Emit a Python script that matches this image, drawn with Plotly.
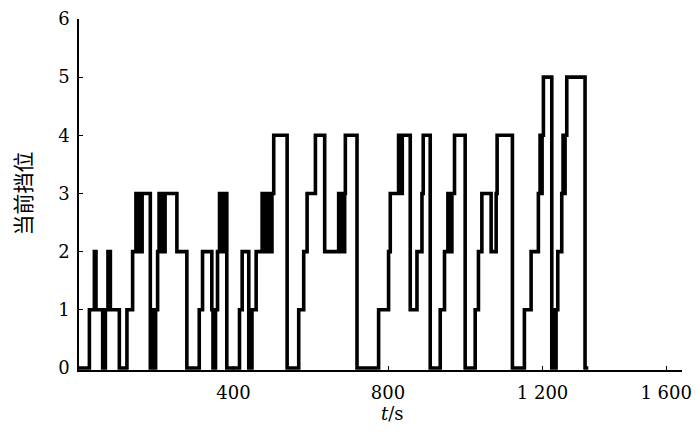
import plotly.graph_objects as go

# change times (s) and gear levels (step function, held until next time)
t_change = [0, 26.9, 39.8, 44.0, 61.3, 68.3, 75.0, 81.2, 104.4, 124.1,
            138.8, 147.4, 151.8, 155.6, 159.5, 163.4, 184.6, 190.5, 194.4, 198.3,
            203.5, 207.3, 211.2, 215.1, 219.0, 222.9, 253.4, 279.2, 311.3, 319.8,
            343.8, 346.9, 353.4, 358.6, 363.8, 367.6, 371.5, 375.4, 378.0, 382.6,
            415.5, 422.4, 439.5, 447.8, 458.6, 474.1, 478.8, 482.7, 487.8, 491.7,
            495.6, 499.5, 504.1, 538.8, 568.8, 581.7, 590.5, 612.0, 636.0, 672.2,
            676.6, 680.5, 684.3, 687.7, 689.5, 719.7, 775.6, 801.4, 805.8, 827.3,
            833.0, 836.9, 857.5, 874.9, 887.8, 891.1, 909.2, 935.1, 946.2, 955.0,
            961.0, 965.3, 972.1, 999.7, 1025.6, 1034.1, 1042.9, 1066.9, 1079.9, 1082.4,
            1122.0, 1153.0, 1170.4, 1189.2, 1193.6, 1196.2, 1198.8, 1202.2, 1223.9, 1228.5,
            1231.1, 1235.0, 1239.4, 1249.7, 1253.1, 1255.7, 1258.3, 1262.7, 1310.0, 1318.5]
gear = [0, 1, 2, 1, 0, 1, 2, 1, 0, 1,
        2, 3, 2, 3, 2, 3, 0, 1, 0, 1,
        2, 3, 2, 3, 2, 3, 2, 0, 1, 2,
        1, 0, 1, 2, 3, 2, 3, 2, 3, 0,
        1, 2, 0, 1, 2, 3, 2, 3, 2, 3,
        2, 3, 4, 0, 1, 2, 3, 4, 2, 3,
        2, 3, 2, 3, 4, 0, 1, 2, 3, 4,
        3, 4, 1, 2, 3, 4, 0, 1, 2, 3,
        2, 3, 4, 0, 1, 2, 3, 2, 3, 4,
        0, 1, 2, 3, 4, 3, 4, 5, 0, 1,
        0, 1, 2, 3, 4, 3, 4, 5, 0, 0]

x_ticks = [400, 800, 1200, 1520]
x_tick_text = ["400", "800", "1 200", "1 600"]
y_ticks = [0, 1, 2, 3, 4, 5, 6]

fig = go.Figure()
fig.add_trace(go.Scatter(x=t_change, y=gear, mode="lines",
                         line=dict(shape="hv", color="black", width=3.6),
                         showlegend=False, hoverinfo="skip"))

tick_font = dict(family="DejaVu Serif", size=18, color="black")
# the page body adds an 8 px offset, so the figure is sized 692x430
fig.update_layout(
    width=692, height=430,
    margin=dict(l=71, r=18, t=11, b=68),
    paper_bgcolor="white", plot_bgcolor="white",
    xaxis=dict(range=[0, 1561], tickvals=x_ticks, ticktext=x_tick_text,
               showline=True, linecolor="black", linewidth=1.5,
               ticks="inside", ticklen=4, tickwidth=1.2, tickcolor="black",
               showgrid=False, zeroline=False, tickfont=tick_font,
               automargin=False, ticklabelstandoff=6),
    yaxis=dict(range=[-0.035, 6], tickvals=y_ticks,
               showline=True, linecolor="black", linewidth=1.5,
               ticks="inside", ticklen=4, tickwidth=1.2, tickcolor="black",
               showgrid=False, zeroline=False, tickfont=tick_font,
               automargin=False, ticklabelstandoff=4),
    annotations=[
        dict(text="<i>t</i>/s", x=0.5195, xref="paper", y=-0.125, yref="paper",
             showarrow=False, xanchor="center", yanchor="middle",
             font=dict(family="DejaVu Serif", size=18, color="black")),
        dict(text="当前挡位", x=-0.094, xref="paper", y=0.504, yref="paper",
             showarrow=False, textangle=-90, xanchor="center", yanchor="middle",
             font=dict(family="Noto Sans CJK SC", size=21, color="black")),
    ],
)
fig.write_html("out.html")
